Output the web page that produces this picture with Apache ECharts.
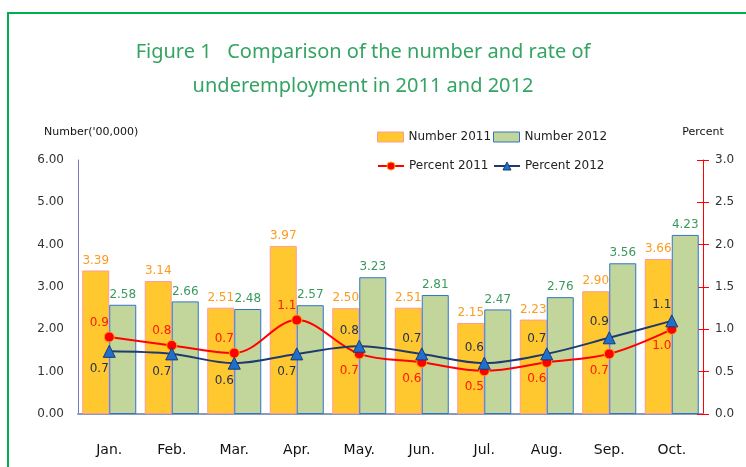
<!DOCTYPE html>
<html>
<head>
<meta charset="utf-8">
<script src="https://cdn.jsdelivr.net/npm/echarts@6/dist/echarts.min.js"></script>
<style>
  html, body { margin: 0; padding: 0; background: #fff; }
  #chart { width: 746px; height: 467px; }
</style>
</head>
<body>
<div id="chart"></div>
<script>
var months = ['Jan.', 'Feb.', 'Mar.', 'Apr.', 'May.', 'Jun.', 'Jul.', 'Aug.', 'Sep.', 'Oct.']
var number2011 = [3.39, 3.14, 2.51, 3.97, 2.50, 2.51, 2.15, 2.23, 2.90, 3.66]
var number2012 = [2.58, 2.66, 2.48, 2.57, 3.23, 2.81, 2.47, 2.76, 3.56, 4.23]
var percent2011 = [0.91, 0.81, 0.72, 1.11, 0.71, 0.61, 0.51, 0.61, 0.71, 1.00]
var percent2012 = [0.74, 0.71, 0.60, 0.71, 0.80, 0.71, 0.60, 0.71, 0.90, 1.10]

var font = 'DejaVu Sans'

// label above the higher of the two lines, below the lower one
function pctData(vals, other) {
  return vals.map(function (v, i) {
    var up = v >= other[i]
    return {
      value: v,
      label: { position: up ? 'top' : 'bottom', distance: up ? 3 : 5 }
    }
  })
}

var chart = echarts.init(document.getElementById('chart'))
chart.setOption({
  backgroundColor: '#fff',
  animation: false,
  title: {
    text: 'Figure 1   Comparison of the number and rate of\nunderemployment in 2011 and 2012',
    left: 358,
    textAlign: 'center',
    top: 30,
    textStyle: {
      color: '#33a463',
      fontFamily: 'Noto Sans',
      fontWeight: 'normal',
      fontSize: 20,
      lineHeight: 34
    }
  },
  graphic: [{
    type: 'rect',
    shape: { x: 8, y: 13, width: 800, height: 520 },
    style: { fill: 'none', stroke: '#00b050', lineWidth: 2 }
  }],
  legend: [
    { data: [{ name: 'Number 2011', icon: 'rect' }], left: 377, top: 131 },
    { data: [{ name: 'Number 2012', icon: 'rect' }], left: 493, top: 131 },
    { data: ['Percent 2011'], left: 377, top: 160 },
    { data: ['Percent 2012'], left: 493, top: 160 }
  ].map(function (l) {
    l.padding = 0
    l.itemWidth = 26
    l.itemHeight = 10
    l.itemStyle = { borderWidth: 1 }
    l.textStyle = { fontFamily: font, fontSize: 12, color: '#222' }
    return l
  }),
  grid: { left: 78, right: 43, top: 160, bottom: 53 },
  xAxis: {
    type: 'category',
    data: months,
    axisLine: { lineStyle: { color: '#8c9bb5', width: 2 } },
    axisTick: { show: false },
    axisLabel: { margin: 29, fontFamily: font, fontSize: 14, color: '#111' }
  },
  yAxis: [{
    type: 'value',
    name: "Number('00,000)",
    nameLocation: 'end',
    nameGap: 22,
    nameTextStyle: { fontFamily: font, fontSize: 11, color: '#111', align: 'left', padding: [0, 0, 0, -34] },
    min: 0, max: 6, interval: 1,
    axisLine: { show: true, lineStyle: { color: '#7878c4' } },
    axisTick: { show: false },
    splitLine: { show: false },
    axisLabel: { margin: 14, fontFamily: font, fontSize: 12, color: '#333', formatter: function (v) { return v.toFixed(2) } }
  }, {
    type: 'value',
    name: 'Percent',
    nameLocation: 'end',
    nameGap: 22,
    nameTextStyle: { fontFamily: font, fontSize: 11, color: '#111' },
    position: 'right',
    min: 0, max: 3, interval: 0.5,
    axisLine: { show: true, lineStyle: { color: '#ff0000' } },
    axisTick: { show: true, length: 6, lineStyle: { color: '#ff0000' } },
    splitLine: { show: false },
    axisLabel: { margin: 12, fontFamily: font, fontSize: 12, color: '#333', formatter: function (v) { return v.toFixed(1) } }
  }, {
    type: 'value',
    position: 'right',
    min: 0, max: 3, interval: 0.5,
    axisLine: { show: false },
    axisTick: { show: true, inside: true, length: 6, lineStyle: { color: '#ff0000' } },
    axisLabel: { show: false },
    splitLine: { show: false }
  }],
  series: [{
    name: 'Number 2011',
    type: 'bar',
    barWidth: 27,
    barGap: '0%',
    itemStyle: { color: '#ffc82f', borderColor: '#ff9a9a', borderWidth: 1 },
    label: { show: true, position: 'top', distance: 4, fontFamily: font, fontSize: 12, color: '#ff9a1e', formatter: function (p) { return p.value.toFixed(2) } },
    data: number2011
  }, {
    name: 'Number 2012',
    type: 'bar',
    barWidth: 27,
    itemStyle: { color: '#c2d69b', borderColor: '#2f75c8', borderWidth: 1 },
    label: { show: true, position: 'top', distance: 4, fontFamily: font, fontSize: 12, color: '#3a9a5e', formatter: function (p) { return p.value.toFixed(2) } },
    data: number2012
  }, {
    name: 'Percent 2011',
    type: 'line',
    yAxisIndex: 1,
    smooth: 0.35,
    symbol: 'circle',
    symbolSize: 10,
    lineStyle: { color: '#ff0000', width: 2 },
    itemStyle: { color: '#ff0000', borderColor: '#ffa500', borderWidth: 1 },
    label: { show: true, offset: [-10, 0], fontFamily: font, fontSize: 12, color: '#ff1a00', formatter: function (p) { return p.value.toFixed(1) } },
    data: pctData(percent2011, percent2012)
  }, {
    name: 'Percent 2012',
    type: 'line',
    yAxisIndex: 1,
    smooth: 0.35,
    symbol: 'triangle',
    symbolSize: 12,
    lineStyle: { color: '#1f3a6e', width: 2 },
    itemStyle: { color: '#1f6fcd', borderColor: '#1f3a6e', borderWidth: 1 },
    label: { show: true, offset: [-10, 0], fontFamily: font, fontSize: 12, color: '#1f3050', formatter: function (p) { return p.value.toFixed(1) } },
    data: pctData(percent2012, percent2011)
  }]
})
</script>
</body>
</html>
